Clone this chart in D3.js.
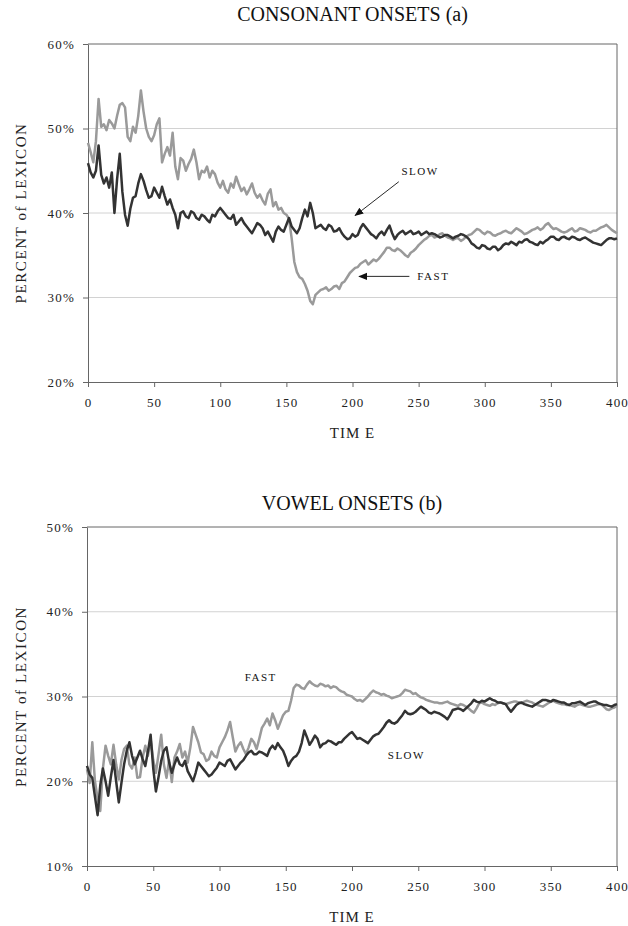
<!DOCTYPE html>
<html>
<head>
<meta charset="utf-8">
<script src="https://cdn.jsdelivr.net/npm/d3@7"></script>
<style>
  body { margin: 0; background: #fff; }
  svg { display: block; font-family: 'Liberation Serif', 'Times New Roman', serif; }
  .axis path, .axis line { stroke: #666; }
  .axis text { font-family: 'Liberation Serif', serif; font-size: 13px; letter-spacing: 1.2px; fill: #222; }
  .grid line { stroke: #d2d2d2; }
  .line { fill: none; stroke-width: 2.5; stroke-linejoin: round; }
</style>
</head>
<body>
<div id="container"></div>
<script>
const width = 628
const height = 926

//-----------------------------DATA-----------------------------//
// time runs 0..400 in steps of 2
const timeStep = 2
const xTicks = [0, 50, 100, 150, 200, 250, 300, 350, 400]
const yTicksA = [20, 30, 40, 50, 60]
const yTicksB = [10, 20, 30, 40, 50]

const consonantFast = [
  48.3, 47.2, 46.0, 48.5, 53.5, 50.2, 50.5, 49.8, 51.0, 50.6,
  50.0, 51.5, 52.8, 53.0, 52.5, 49.0, 48.5, 50.2, 49.5, 51.5,
  54.5, 52.0, 50.0, 49.0, 48.5, 49.2, 50.5, 51.2, 46.0, 47.0,
  47.8, 46.8, 49.5, 45.5, 44.0, 46.5, 46.2, 45.0, 45.8, 46.4,
  47.5, 46.0, 44.0, 45.0, 44.8, 45.5, 44.2, 45.0, 44.6, 43.6,
  43.0, 43.8, 42.8, 42.4, 43.5, 43.0, 44.3, 43.4, 42.6, 43.0,
  42.2, 42.8, 43.5, 42.4, 41.8, 42.2, 41.5, 41.0, 42.3, 42.8,
  40.8, 41.3, 40.4, 40.6, 40.0, 39.8, 39.3, 37.0, 34.2, 33.0,
  32.4, 32.2, 31.6, 30.8, 29.6, 29.2, 30.3, 30.6, 30.9, 31.0,
  31.2, 30.8, 31.0, 31.3, 31.4, 31.0, 31.7, 31.9, 32.4, 32.9,
  33.2, 33.5, 33.6, 34.0, 34.2, 34.4, 33.9, 34.2, 34.5, 34.3,
  34.6, 35.0, 35.4, 35.9, 35.9, 35.6, 35.5, 35.8, 35.6, 35.3,
  35.0, 34.8, 35.3, 35.5, 35.8, 36.2, 36.5, 36.8, 37.0, 37.3,
  37.4, 37.1, 37.2, 37.5, 37.6, 37.3, 37.1, 37.0, 36.8, 37.0,
  37.0, 36.7, 36.9, 37.2, 37.4, 37.5, 37.8, 38.1, 38.0, 37.7,
  37.5, 37.8, 37.7, 37.4, 37.3, 37.5, 37.6, 37.8, 37.9, 37.7,
  37.6, 37.9, 38.2, 38.0, 37.8, 37.5, 37.6, 37.8, 38.0, 38.1,
  38.3, 38.0, 38.2, 38.6, 38.8, 38.4, 38.1, 38.2, 38.0, 37.8,
  37.7, 37.8, 38.0, 38.2, 37.8, 37.9, 38.2, 38.1, 38.0, 37.8,
  37.7, 37.9, 37.9, 38.1, 38.3, 38.4, 38.6, 38.3, 38.0, 37.8,
  37.6
]
const consonantSlow = [
  45.9, 44.8, 44.2, 45.0, 48.0, 44.5, 43.5, 44.2, 43.0, 44.8,
  40.0, 44.0, 47.0, 42.5, 39.8, 38.5, 40.5, 41.8, 42.0, 43.5,
  44.6, 43.8, 42.7, 41.8, 42.0, 43.0, 42.4, 41.8, 43.1, 42.0,
  41.0, 41.6, 40.6, 39.8, 38.2, 40.0, 40.2, 39.6, 39.4, 40.2,
  40.0, 39.4, 39.2, 39.8, 39.6, 39.2, 38.9, 39.8, 39.6, 40.2,
  40.6, 40.2, 39.8, 39.4, 39.3, 39.8, 38.6, 39.0, 39.4, 38.8,
  38.4, 38.0, 37.6, 38.2, 38.8, 38.6, 38.2, 37.4, 37.8, 37.2,
  36.6, 37.8, 38.4, 38.0, 37.8, 38.6, 39.4, 38.4, 38.0, 37.6,
  38.2, 39.4, 40.4, 39.6, 41.2, 40.0, 38.2, 38.4, 38.6, 38.2,
  38.0, 38.6, 38.4, 37.8, 37.9, 38.2, 37.6, 37.2, 36.9, 37.0,
  37.5, 37.2, 37.4, 38.2, 38.7, 38.3, 37.9, 37.5, 37.3, 37.0,
  37.5, 37.8, 37.4, 38.0, 38.5, 37.6, 36.9, 37.4, 37.7, 37.9,
  37.5, 37.7, 37.9, 37.5, 37.6, 37.8, 37.4, 37.6, 37.8, 37.5,
  37.6, 37.5, 37.3, 37.1, 37.2, 37.4, 37.4, 37.2, 37.0, 37.2,
  37.3, 37.5, 37.4, 37.2, 36.9, 36.4, 36.2, 35.9, 35.8, 36.2,
  36.1, 35.8, 35.7, 36.0, 36.0, 35.6, 35.8, 36.2, 36.4, 36.3,
  36.6, 36.4, 36.2, 36.6, 36.5, 36.8, 36.9, 36.6, 36.5, 36.3,
  36.2, 36.6, 36.4, 36.7, 36.9, 37.2, 37.2, 36.9, 36.8, 37.1,
  37.2, 37.0, 36.9, 37.2, 37.1, 36.9, 36.8, 37.0, 37.1, 36.9,
  36.7, 36.5, 36.4, 36.3, 36.2, 36.5, 36.8, 37.0, 37.0, 36.9,
  37.0
]
const vowelFast = [
  21.4, 19.8, 24.6, 20.0, 18.0, 16.5, 21.5, 24.2, 23.0, 22.0,
  24.3, 22.0, 20.2, 22.5, 23.8, 24.2, 22.0, 21.5, 22.8, 20.4,
  20.5, 22.8, 24.2, 23.0, 25.0, 22.5, 21.0, 23.2, 25.5, 22.0,
  20.4, 22.5, 19.9, 22.8, 23.5, 24.4, 22.8, 23.5, 22.2, 24.0,
  26.4, 25.5, 24.6, 23.4, 23.2, 22.4, 22.6, 23.5, 23.0, 22.8,
  24.0, 24.6, 25.2, 26.0, 27.0, 25.2, 23.5, 24.2, 24.6, 23.8,
  23.2, 24.0, 25.0, 24.6, 23.8, 25.0, 26.3, 26.8, 27.4, 26.6,
  28.0, 27.2, 26.2, 27.0, 27.8, 28.2, 28.3, 29.5, 31.0, 31.4,
  31.3, 31.0, 30.9, 31.4, 31.8, 31.5, 31.3, 31.2, 31.5, 31.4,
  31.2, 31.3, 31.0, 31.2, 31.1, 30.8, 30.6, 30.5, 30.2, 30.1,
  30.0, 29.7, 29.5, 29.6, 29.4, 29.7, 30.0, 30.4, 30.7, 30.5,
  30.4, 30.2, 30.3, 30.1, 30.0, 29.8, 29.9, 30.0, 30.1, 30.4,
  30.8, 30.7, 30.6, 30.3, 30.4, 30.1, 29.9, 29.8, 29.6, 29.5,
  29.4, 29.3, 29.3, 29.2, 29.2, 29.3, 29.4, 29.2, 29.1, 29.0,
  28.9, 29.1, 29.0, 28.8, 28.6, 28.3, 28.1, 28.6, 29.2, 29.3,
  29.1, 29.0, 28.9, 29.1, 29.0, 29.2, 29.3, 29.2, 29.1, 29.2,
  29.3, 29.4, 29.4, 29.3, 29.2, 29.4, 29.5, 29.4, 29.3, 29.1,
  29.0, 28.9, 28.8, 29.0, 29.2, 29.4, 29.5, 29.3, 29.2, 29.1,
  29.1, 29.0, 29.0, 28.9, 28.8, 29.0, 29.1, 29.0, 28.9, 28.8,
  28.8, 28.9, 29.0, 29.1, 29.1, 28.8, 28.5, 28.4, 28.6, 28.7,
  28.9
]
const vowelSlow = [
  21.8, 20.8, 20.4, 18.2, 16.0, 19.5, 21.5, 20.0, 18.3, 20.5,
  22.5, 20.0, 17.5, 19.8, 22.0, 23.6, 24.6, 23.0, 22.0, 22.8,
  23.6, 22.6, 21.8, 23.5, 25.5, 21.5, 18.8, 20.5, 22.4, 23.6,
  24.0, 22.2, 21.0, 22.0, 22.8, 22.0, 21.8, 22.4, 21.2, 20.6,
  20.0, 21.0, 22.2, 21.8, 21.4, 21.0, 20.6, 20.8, 21.2, 21.6,
  22.2, 22.0, 21.8, 22.4, 22.6, 22.0, 21.4, 21.8, 22.2, 22.5,
  23.0, 23.4, 23.6, 23.2, 23.2, 23.5, 23.4, 23.2, 23.0, 23.8,
  24.2, 23.8, 24.5, 24.0, 23.6, 22.8, 21.8, 22.4, 22.8, 23.0,
  23.5, 24.5, 26.0, 25.2, 24.3, 24.8, 25.4, 25.0, 24.0, 24.4,
  24.5, 24.8, 24.7, 24.5, 24.3, 24.6, 24.6, 25.0, 25.3, 25.6,
  25.8, 25.4, 25.0, 25.1, 24.9, 24.7, 24.5, 24.9, 25.3, 25.5,
  25.6, 26.0, 26.4, 26.9, 27.2, 26.9, 26.8, 27.0, 27.4, 27.8,
  28.3, 28.0, 27.9, 28.0, 28.2, 28.5, 28.8, 28.6, 28.4, 28.1,
  28.0, 28.2, 28.1, 28.0, 27.8, 27.6, 27.3, 27.8, 28.4, 28.5,
  28.6, 28.5, 28.3, 28.6, 28.9, 29.2, 29.6, 29.4, 29.3, 29.5,
  29.4, 29.6, 29.8, 29.6, 29.5, 29.3, 29.3, 29.2, 29.1, 28.6,
  28.2, 28.6, 29.0, 29.2, 29.3, 29.1, 29.0, 28.9, 28.8, 29.0,
  29.2, 29.4, 29.6, 29.6, 29.5, 29.4, 29.6, 29.5, 29.4, 29.3,
  29.3, 29.1, 29.0, 29.2, 29.2, 29.3, 29.4, 29.2, 29.0, 29.2,
  29.3, 29.4, 29.4, 29.2, 29.1, 29.0, 29.0, 28.9, 28.8, 29.0,
  29.1
]

//-----------------------------SVG------------------------------//
const svg = d3.select('div#container').append('svg')
    .attr('width', width)
    .attr('height', height)

svg.append('defs').append('marker')
    .attr('id', 'arrow')
    .attr('viewBox', '0 -5 10 10')
    .attr('refX', 9)
    .attr('refY', 0)
    .attr('markerWidth', 9)
    .attr('markerHeight', 9)
    .attr('markerUnits', 'userSpaceOnUse')
    .attr('orient', 'auto')
    .append('path')
    .attr('d', 'M0,-4L10,0L0,4Z')
    .attr('fill', '#111')

const drawPanel = (cfg) => {
    const g = svg.append('g')

    const xScale = d3.scaleLinear().domain([0, 400]).range([cfg.left, cfg.right])
    const yScale = d3.scaleLinear().domain(d3.extent(cfg.yTicks)).range([cfg.bottom, cfg.top])

    // title
    g.append('text')
        .attr('x', (cfg.left + cfg.right) / 2)
        .attr('y', cfg.titleY)
        .attr('text-anchor', 'middle')
        .style('font-size', '20px')
        .style('fill', '#111')
        .text(cfg.title)

    // gridlines
    g.append('g')
        .attr('class', 'grid')
        .selectAll('line')
        .data(cfg.yTicks.slice(1, -1))
        .enter()
        .append('line')
        .attr('x1', cfg.left)
        .attr('x2', cfg.right)
        .attr('y1', d => yScale(d))
        .attr('y2', d => yScale(d))

    // box top + right
    g.append('path')
        .attr('d', `M${cfg.left},${cfg.top}H${cfg.right}V${cfg.bottom}`)
        .attr('fill', 'none')
        .attr('stroke', '#666')

    // axes
    const xaxis = d3.axisBottom(xScale)
        .tickValues(xTicks)
        .tickSize(5)
        .tickSizeOuter(0)
        .tickPadding(11)
    const yaxis = d3.axisLeft(yScale)
        .tickValues(cfg.yTicks)
        .tickSize(5)
        .tickSizeOuter(0)
        .tickPadding(8)
        .tickFormat(d => d + '%')

    g.append('g')
        .attr('class', 'axis')
        .attr('transform', 'translate(0,' + cfg.bottom + ')')
        .call(xaxis)

    g.append('g')
        .attr('class', 'axis')
        .attr('transform', 'translate(' + cfg.left + ',0)')
        .call(yaxis)

    g.append('text')
        .attr('x', (cfg.left + cfg.right) / 2)
        .attr('y', cfg.bottom + 56)
        .attr('text-anchor', 'middle')
        .style('font-size', '15px')
        .style('letter-spacing', '1px')
        .style('fill', '#222')
        .text('TIM E')

    g.append('text')
        .attr('transform', `translate(26,${(cfg.top + cfg.bottom) / 2}) rotate(-90)`)
        .attr('text-anchor', 'middle')
        .style('font-size', '15px')
        .style('letter-spacing', '1.6px')
        .style('fill', '#222')
        .text('PERCENT of LEXICON')

    // lines
    const line = d3.line()
        .x((d, i) => xScale(i * timeStep))
        .y(d => yScale(d))

    g.append('path')
        .attr('class', 'line')
        .attr('stroke', '#9a9a9a')
        .attr('d', line(cfg.fast))

    g.append('path')
        .attr('class', 'line')
        .attr('stroke', '#333')
        .attr('d', line(cfg.slow))

    // labels
    cfg.notes.forEach(n => {
        g.append('text')
            .attr('x', xScale(n.t))
            .attr('y', yScale(n.v))
            .attr('dy', '0.35em')
            .style('font-size', '11px')
            .style('letter-spacing', '1.5px')
            .style('fill', '#111')
            .text(n.label)
        if (n.arrow) {
            g.append('line')
                .attr('x1', xScale(n.arrow[0]))
                .attr('y1', yScale(n.arrow[1]))
                .attr('x2', xScale(n.arrow[2]))
                .attr('y2', yScale(n.arrow[3]))
                .attr('stroke', '#111')
                .attr('stroke-width', 0.9)
                .attr('marker-end', 'url(#arrow)')
        }
    })
}

drawPanel({
    title: 'CONSONANT ONSETS (a)', titleY: 21,
    left: 88, right: 617, top: 44, bottom: 382,
    yTicks: yTicksA, fast: consonantFast, slow: consonantSlow,
    notes: [
        { label: 'SLOW', t: 237, v: 45.0, arrow: [235, 43.7, 202, 39.7] },
        { label: 'FAST', t: 249, v: 32.5, arrow: [243, 32.5, 205, 32.5] }
    ]
})

drawPanel({
    title: 'VOWEL ONSETS (b)', titleY: 510,
    left: 87, right: 617, top: 527, bottom: 866,
    yTicks: yTicksB, fast: vowelFast, slow: vowelSlow,
    notes: [
        { label: 'FAST', t: 119, v: 32.3 },
        { label: 'SLOW', t: 227, v: 23.1 }
    ]
})
</script>
</body>
</html>
